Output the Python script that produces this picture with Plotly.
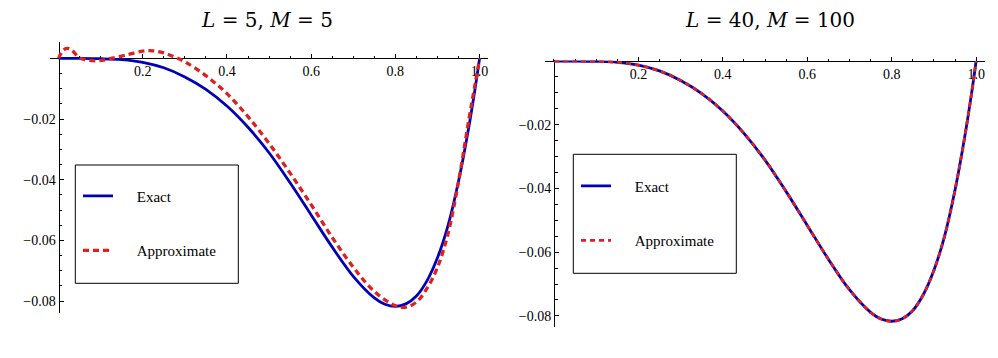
import plotly.graph_objects as go

W, H = 998, 358

# ---------------- data ----------------
x_exact = [0.0, 0.05, 0.1, 0.15, 0.2, 0.25, 0.3, 0.35, 0.4, 0.45, 0.5, 0.55,
           0.6, 0.65, 0.7, 0.75, 0.775, 0.8, 0.825, 0.85, 0.875, 0.9, 0.925,
           0.95, 0.975, 0.99, 1.0]
y_exact = [0.0, 0.0, -0.0001, -0.0004, -0.0013, -0.0031, -0.0061, -0.0102,
           -0.0157, -0.0227, -0.0311, -0.0410, -0.0516, -0.0622, -0.0718,
           -0.0789, -0.0810, -0.0817, -0.0809, -0.0783, -0.0733, -0.0657,
           -0.0551, -0.0405, -0.0222, -0.0094, 0.0]

x_approx_left = [0.0, 0.01, 0.02, 0.03, 0.05, 0.07, 0.09, 0.11, 0.125, 0.16,
                 0.2, 0.225, 0.25, 0.275, 0.3, 0.35, 0.4, 0.45, 0.5, 0.55,
                 0.6, 0.65, 0.7, 0.75, 0.8, 0.825, 0.85, 0.875, 0.9, 0.925,
                 0.95, 0.975, 0.99, 1.0]
y_approx_left = [0.0, 0.0025, 0.0033, 0.0029, 0.0002, -0.0006, -0.0008,
                 -0.0005, 0.0, 0.0011, 0.0024, 0.0025, 0.0018, 0.0005,
                 -0.0011, -0.0057, -0.0116, -0.0192, -0.0280, -0.0378,
                 -0.0482, -0.0590, -0.0688, -0.0768, -0.0815, -0.0820,
                 -0.0803, -0.0758, -0.0689, -0.0578, -0.0406, -0.0198,
                 -0.0080, 0.0]

x_approx_right = [0.0, 0.05, 0.1, 0.15, 0.2, 0.25, 0.3, 0.35, 0.4, 0.45, 0.5,
                  0.55, 0.6, 0.65, 0.7, 0.75, 0.775, 0.8, 0.825, 0.85, 0.875,
                  0.9, 0.925, 0.95, 0.975, 0.99, 1.0]
y_approx_right = [0.0, 0.0, -0.0001, -0.0004, -0.0013, -0.0031, -0.0061,
                  -0.0102, -0.0157, -0.0227, -0.0311, -0.0410, -0.0516,
                  -0.0622, -0.0718, -0.0789, -0.0810, -0.0817, -0.0809,
                  -0.0783, -0.0733, -0.0657, -0.0551, -0.0405, -0.0222,
                  -0.0094, 0.0]

series_names = ["Exact", "Approximate"]
panel_titles = ["<i>L</i> = 5, <i>M</i> = 5", "<i>L</i> = 40, <i>M</i> = 100"]
x_tick_vals = [0.2, 0.4, 0.6, 0.8, 1.0]
x_tick_text = ["0.2", "0.4", "0.6", "0.8", "1.0"]
y_tick_vals = [-0.02, -0.04, -0.06, -0.08]
y_tick_text = ["\u22120.02", "\u22120.04", "\u22120.06", "\u22120.08"]

# ---------------- style ----------------
BLUE = "rgb(0,0,185)"
RED = "rgb(222,32,32)"
SERIF = "Liberation Serif"
PAD = "\u00a0" * 5  # gap between legend sample and label


def px_x(p):
    return p / W


def px_y(p):
    return 1 - p / H


fig = go.Figure()

fig.add_trace(go.Scatter(x=x_exact, y=y_exact, mode="lines", name=PAD + series_names[0],
                         line=dict(color=BLUE, width=2.8, shape="spline", smoothing=1.0),
                         xaxis="x", yaxis="y", legend="legend", legendgroup="e1"))
fig.add_trace(go.Scatter(x=x_approx_left, y=y_approx_left, mode="lines", name=PAD + series_names[1],
                         line=dict(color=RED, width=3.3, dash="6px,4px", shape="spline", smoothing=1.0),
                         xaxis="x", yaxis="y", legend="legend", legendgroup="a1"))
fig.add_trace(go.Scatter(x=x_exact, y=y_exact, mode="lines", name=PAD + series_names[0],
                         line=dict(color=BLUE, width=2.8, shape="spline", smoothing=1.0),
                         xaxis="x2", yaxis="y2", legend="legend2", legendgroup="e2"))
fig.add_trace(go.Scatter(x=x_approx_right, y=y_approx_right, mode="lines", name=PAD + series_names[1],
                         line=dict(color=RED, width=2.8, dash="5px,4px", shape="spline", smoothing=1.0),
                         xaxis="x2", yaxis="y2", legend="legend2", legendgroup="a2"))

tickfont = dict(family=SERIF, size=14, color="black")


def xaxis_cfg(domain, rng, pos):
    return dict(domain=domain, range=rng, anchor="free", position=pos,
                showline=True, linecolor="black", linewidth=1,
                showgrid=False, zeroline=False, layer="below traces",
                tickmode="array", tickvals=x_tick_vals, ticktext=x_tick_text,
                ticks="inside", ticklen=4, tickcolor="black", tickwidth=1,
                tickfont=tickfont,
                minor=dict(tickmode="linear", tick0=0, dtick=0.05, ticks="inside",
                           ticklen=2.5, tickcolor="black", showgrid=False))


def yaxis_cfg(domain, rng, pos):
    return dict(domain=domain, range=rng, anchor="free", position=pos,
                showline=True, linecolor="black", linewidth=1,
                showgrid=False, zeroline=False, layer="below traces",
                tickmode="array", tickvals=y_tick_vals, ticktext=y_tick_text,
                ticks="inside", ticklen=4, tickcolor="black", tickwidth=1,
                tickfont=tickfont,
                minor=dict(tickmode="linear", tick0=0, dtick=0.005, ticks="inside",
                           ticklen=2.5, tickcolor="black", showgrid=False))


legend_font = dict(family=SERIF, size=15, color="black")

fig.update_layout(
    width=W, height=H,
    margin=dict(l=0, r=0, t=0, b=0),
    paper_bgcolor="white", plot_bgcolor="white",
    showlegend=True,
    xaxis=xaxis_cfg([px_x(50.1), px_x(488)], [-0.02, 1.02], px_y(58.3)),
    yaxis=yaxis_cfg([px_y(313.3), px_y(42.3)], [-0.084, 0.0053], px_x(58.5)),
    xaxis2=xaxis_cfg([px_x(544.7), px_x(985)], [-0.022, 1.021], px_y(61)),
    yaxis2=yaxis_cfg([px_y(327), px_y(60.4)], [-0.0835, 0.0002], px_x(554)),
    legend=dict(x=px_x(78), y=px_y(179.7), xanchor="left", yanchor="top",
                bgcolor="rgba(0,0,0,0)", borderwidth=0, font=legend_font,
                itemwidth=30, traceorder="grouped", tracegroupgap=32),
    legend2=dict(x=px_x(576), y=px_y(169.7), xanchor="left", yanchor="top",
                 bgcolor="rgba(0,0,0,0)", borderwidth=0, font=legend_font,
                 itemwidth=30, traceorder="grouped", tracegroupgap=32),
    shapes=[
        dict(type="rect", xref="paper", yref="paper",
             x0=px_x(75.3), x1=px_x(238.3), y0=px_y(283.3), y1=px_y(165),
             line=dict(color="black", width=1), fillcolor="rgba(0,0,0,0)", layer="below"),
        dict(type="rect", xref="paper", yref="paper",
             x0=px_x(573.3), x1=px_x(736.3), y0=px_y(273.3), y1=px_y(154.3),
             line=dict(color="black", width=1), fillcolor="rgba(0,0,0,0)", layer="below"),
    ],
    annotations=[
        dict(text=panel_titles[0], xref="paper", yref="paper", x=px_x(267), y=px_y(20),
             xanchor="center", yanchor="middle", showarrow=False,
             font=dict(family="DejaVu Serif, Liberation Serif, serif", size=20, color="black")),
        dict(text=panel_titles[1], xref="paper", yref="paper", x=px_x(770), y=px_y(20),
             xanchor="center", yanchor="middle", showarrow=False,
             font=dict(family="DejaVu Serif, Liberation Serif, serif", size=20, color="black")),
    ],
)

fig.write_html("out.html",
               config={"displayModeBar": False},
               post_script="document.body.style.margin='0';document.body.style.padding='0';")
